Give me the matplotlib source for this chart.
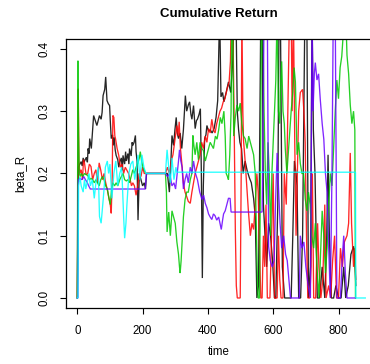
import matplotlib
matplotlib.use("Agg")
import matplotlib.pyplot as plt

# beta_R paths, one per series (time, value); values above 0.42 run off the top
black_t = [0, 3, 8, 12, 15, 18, 21, 24, 28, 31, 33, 36, 38, 43, 47, 50, 55, 60, 64, 68, 73, 76,
           79, 84, 87, 91, 95, 99, 101, 104, 108, 110, 113, 116, 119, 124, 127, 130, 135, 138,
           140, 145, 148, 150, 155, 158, 160, 165, 168, 170, 174, 178, 180, 183, 186, 190, 195,
           200, 205, 209, 212, 270, 276, 282, 286, 290, 295, 299, 303, 306, 310, 315, 320, 325,
           331, 335, 340, 344, 348, 351, 356, 361, 365, 368, 373, 377, 380, 383, 386, 390, 394,
           397, 402, 407, 413, 419, 425, 430, 436, 440, 445, 449, 456, 463, 470, 476, 480, 486,
           490, 494, 498, 503, 508, 514, 520, 527, 533, 540, 545, 550, 555, 558, 562, 566, 570,
           575, 580, 586, 592, 598, 604, 608, 614, 618, 622, 628, 635, 645, 655, 660, 665, 670,
           673, 678, 684, 690, 697, 703, 708, 714, 719, 723, 728, 735, 742, 750, 758, 764, 768,
           772, 778, 785, 792, 800, 808, 816, 822, 830, 838, 846, 850, 853]
black_v = [0.0, 0.21, 0.215, 0.219, 0.212, 0.225, 0.218, 0.222, 0.226, 0.218, 0.24, 0.232,
           0.256, 0.24, 0.27, 0.293, 0.285, 0.277, 0.285, 0.293, 0.287, 0.298, 0.325, 0.335,
           0.355, 0.317, 0.312, 0.309, 0.285, 0.256, 0.262, 0.245, 0.258, 0.238, 0.229, 0.222,
           0.21, 0.218, 0.225, 0.205, 0.229, 0.215, 0.235, 0.22, 0.232, 0.215, 0.24, 0.228, 0.25,
           0.245, 0.25, 0.261, 0.235, 0.22, 0.125, 0.2, 0.19, 0.18, 0.185, 0.175, 0.2, 0.2, 0.2,
           0.17, 0.21, 0.261, 0.245, 0.27, 0.29, 0.265, 0.256, 0.265, 0.24, 0.27, 0.325, 0.3, 0.31,
           0.315, 0.295, 0.287, 0.309, 0.272, 0.285, 0.287, 0.295, 0.304, 0.2, 0.032, 0.18, 0.256,
           0.262, 0.277, 0.268, 0.27, 0.265, 0.272, 0.29, 0.317, 0.46, 0.323, 0.33, 0.315, 0.33,
           0.347, 0.33, 0.38, 0.46, 0.46, 0.3, 0.27, 0.25, 0.24, 0.2, 0.22, 0.205, 0.193, 0.185,
           0.16, 0.131, 0.0, 0.02, 0.2, 0.46, 0.46, 0.15, 0.1, 0.05, 0.12, 0.1, 0.06, 0.0, 0.0,
           0.15, 0.46, 0.46, 0.05, 0.0, 0.0, 0.0, 0.1, 0.22, 0.2, 0.18, 0.0, 0.0, 0.1, 0.46, 0.46,
           0.0, 0.05, 0.46, 0.27, 0.2, 0.0, 0.0, 0.05, 0.0, 0.1, 0.23, 0.1, 0.0, 0.0, 0.02, 0.0,
           0.0, 0.05, 0.0, 0.02, 0.07, 0.083, 0.06, 0.02]

red_t = [0, 3, 5, 8, 12, 16, 19, 22, 27, 32, 37, 42, 47, 52, 57, 62, 67, 72, 77, 82, 87, 92, 97,
         101, 104, 107, 109, 112, 115, 117, 122, 127, 132, 137, 142, 147, 152, 157, 162, 166, 170,
         175, 180, 185, 190, 195, 200, 205, 210, 270, 276, 282, 288, 293, 298, 305, 309, 312, 316,
         320, 325, 330, 335, 340, 346, 351, 356, 361, 366, 371, 376, 381, 386, 392, 397, 402, 407,
         412, 417, 422, 427, 432, 437, 442, 447, 452, 459, 465, 469, 472, 476, 480, 484, 487, 490,
         499, 502, 504, 507, 509, 514, 519, 524, 530, 535, 540, 545, 550, 554, 558, 562, 566, 570,
         574, 578, 582, 590, 596, 600, 604, 612, 616, 620, 624, 630, 634, 640, 645, 650, 655, 658,
         662, 666, 670, 674, 678, 683, 690, 694, 698, 702, 706, 712, 716, 720, 724, 730, 736, 740,
         746, 752, 758, 762, 770, 776, 782, 788, 794, 800, 806, 812, 818, 826, 831, 836, 840, 846,
         850, 853]
red_v = [0.0, 0.336, 0.22, 0.2, 0.206, 0.19, 0.222, 0.217, 0.198, 0.2, 0.215, 0.211, 0.19, 0.2,
         0.206, 0.185, 0.217, 0.205, 0.19, 0.2, 0.185, 0.174, 0.16, 0.15, 0.136, 0.195, 0.293,
         0.29, 0.26, 0.256, 0.24, 0.229, 0.21, 0.215, 0.2, 0.21, 0.205, 0.2, 0.19, 0.18, 0.185,
         0.18, 0.165, 0.18, 0.2, 0.195, 0.21, 0.2, 0.2, 0.2, 0.21, 0.2, 0.22, 0.23, 0.25, 0.277,
         0.26, 0.283, 0.24, 0.217, 0.185, 0.17, 0.163, 0.155, 0.152, 0.17, 0.185, 0.2, 0.21,
         0.22, 0.23, 0.25, 0.24, 0.26, 0.25, 0.272, 0.265, 0.287, 0.27, 0.265, 0.28, 0.29, 0.3,
         0.305, 0.315, 0.32, 0.336, 0.347, 0.38, 0.46, 0.46, 0.3, 0.11, 0.02, 0.0, 0.0, 0.2, 0.46,
         0.3, 0.254, 0.22, 0.18, 0.14, 0.1, 0.12, 0.11, 0.15, 0.2, 0.17, 0.08, 0.0, 0.0, 0.1,
         0.05, 0.15, 0.0, 0.0, 0.12, 0.2, 0.0, 0.0, 0.1, 0.03, 0.0, 0.0, 0.2, 0.15, 0.3, 0.46,
         0.46, 0.3, 0.46, 0.25, 0.1, 0.2, 0.3, 0.33, 0.335, 0.3, 0.25, 0.1, 0.0, 0.0, 0.05, 0.2,
         0.0, 0.0, 0.12, 0.05, 0.0, 0.03, 0.15, 0.0, 0.02, 0.0, 0.06, 0.1, 0.0, 0.0, 0.08, 0.05,
         0.09, 0.1, 0.12, 0.233, 0.12, 0.05, 0.08, 0.03]

green_t = [0, 2, 4, 6, 9, 12, 17, 22, 27, 32, 37, 42, 47, 52, 57, 62, 67, 72, 77, 82, 87, 92, 97,
           101, 105, 109, 114, 119, 124, 130, 135, 140, 145, 150, 155, 160, 165, 170, 175, 180,
           186, 190, 193, 197, 201, 205, 210, 270, 273, 275, 280, 285, 290, 295, 300, 305, 310,
           313, 315, 318, 320, 325, 330, 335, 340, 346, 351, 354, 357, 361, 366, 371, 376, 381,
           386, 392, 397, 402, 407, 412, 417, 423, 428, 433, 438, 443, 449, 453, 456, 460, 463,
           467, 471, 473, 476, 479, 484, 489, 494, 499, 504, 509, 514, 520, 525, 530, 535, 540,
           545, 549, 552, 554, 558, 561, 564, 568, 572, 576, 580, 584, 588, 592, 596, 600, 604,
           608, 612, 616, 620, 622, 626, 630, 634, 637, 642, 646, 650, 655, 660, 664, 668, 673,
           678, 683, 688, 693, 698, 703, 708, 713, 718, 724, 729, 734, 740, 745, 750, 755, 760,
           765, 770, 775, 780, 786, 790, 795, 800, 805, 810, 814, 818, 822, 826, 831, 836, 841,
           846, 850, 852]
green_v = [0.0, 0.381, 0.26, 0.2, 0.195, 0.2, 0.195, 0.2, 0.198, 0.197, 0.19, 0.192, 0.19, 0.185,
           0.19, 0.185, 0.18, 0.19, 0.195, 0.19, 0.18, 0.175, 0.16, 0.15, 0.175, 0.185, 0.18,
           0.185, 0.18, 0.19, 0.195, 0.2, 0.19, 0.188, 0.19, 0.185, 0.195, 0.206, 0.2, 0.21,
           0.217, 0.225, 0.235, 0.22, 0.21, 0.205, 0.2, 0.2, 0.17, 0.106, 0.138, 0.1, 0.14, 0.13,
           0.12, 0.09, 0.07, 0.05, 0.04, 0.06, 0.08, 0.13, 0.158, 0.17, 0.17, 0.19, 0.2, 0.261,
           0.245, 0.23, 0.25, 0.222, 0.25, 0.24, 0.237, 0.22, 0.23, 0.24, 0.25, 0.245, 0.24, 0.26,
           0.255, 0.27, 0.29, 0.28, 0.3, 0.26, 0.2, 0.195, 0.19, 0.23, 0.3, 0.46, 0.46, 0.26, 0.29,
           0.31, 0.3, 0.313, 0.28, 0.26, 0.256, 0.24, 0.26, 0.25, 0.24, 0.23, 0.2, 0.1, 0.02, 0.0,
           0.0, 0.2, 0.46, 0.46, 0.3, 0.2, 0.15, 0.25, 0.2, 0.1, 0.2, 0.25, 0.3, 0.35, 0.46, 0.3,
           0.28, 0.33, 0.38, 0.3, 0.28, 0.24, 0.2, 0.23, 0.26, 0.3, 0.33, 0.37, 0.347, 0.23, 0.25,
           0.216, 0.2, 0.2, 0.16, 0.14, 0.17, 0.15, 0.1, 0.08, 0.12, 0.05, 0.0, 0.07, 0.14, 0.1,
           0.04, 0.08, 0.15, 0.2, 0.18, 0.25, 0.3, 0.35, 0.32, 0.37, 0.388, 0.42, 0.46, 0.46, 0.39,
           0.36, 0.31, 0.28, 0.3, 0.27, 0.0]

purple_t = [0, 2, 3, 8, 14, 20, 25, 30, 35, 40, 208, 212, 270, 276, 283, 290, 296, 301, 306, 310,
            313, 317, 321, 325, 330, 335, 340, 346, 351, 356, 362, 368, 375, 382, 387, 392, 397,
            402, 407, 412, 417, 422, 427, 433, 437, 441, 445, 448, 453, 459, 463, 468, 471, 566,
            568, 572, 582, 586, 591, 597, 603, 607, 612, 616, 621, 626, 632, 638, 643, 648, 653,
            660, 670, 680, 683, 688, 694, 700, 707, 714, 716, 719, 722, 726, 729, 734, 739, 744,
            750, 755, 760, 765, 770, 775, 780, 784, 790, 793, 795, 800, 806, 811, 816, 821, 826,
            852]
purple_v = [0.0, 0.0, 0.19, 0.192, 0.19, 0.195, 0.19, 0.186, 0.18, 0.175, 0.175, 0.2, 0.2, 0.195,
            0.2, 0.18, 0.185, 0.175, 0.2, 0.22, 0.238, 0.22, 0.21, 0.175, 0.19, 0.2, 0.185, 0.21,
            0.2, 0.22, 0.2, 0.19, 0.17, 0.158, 0.165, 0.152, 0.145, 0.135, 0.13, 0.126, 0.135,
            0.132, 0.125, 0.13, 0.12, 0.11, 0.125, 0.135, 0.14, 0.152, 0.16, 0.16, 0.138, 0.138,
            0.217, 0.46, 0.46, 0.083, 0.06, 0.05, 0.06, 0.15, 0.233, 0.18, 0.12, 0.08, 0.1, 0.07,
            0.06, 0.03, 0.0, 0.0, 0.0, 0.0, 0.1, 0.08, 0.09, 0.05, 0.02, 0.0, 0.15, 0.46, 0.3,
            0.36, 0.378, 0.35, 0.36, 0.32, 0.28, 0.255, 0.2, 0.17, 0.08, 0.0, 0.2, 0.46, 0.46, 0.2,
            0.0, 0.0, 0.0, 0.06, 0.1, 0.04, 0.0, 0.0]

cyan_t = [0, 2, 4, 8, 12, 18, 22, 26, 30, 36, 40, 46, 52, 58, 64, 68, 73, 78, 82, 86, 92, 96, 100,
          106, 112, 118, 124, 130, 136, 142, 145, 149, 152, 158, 164, 170, 176, 182, 186, 192, 198,
          204, 210, 270, 275, 280, 285, 290, 296, 302, 305, 852, 853, 882]
cyan_v = [0.0, 0.0, 0.18, 0.195, 0.18, 0.17, 0.19, 0.175, 0.185, 0.2, 0.18, 0.19, 0.16, 0.19,
          0.21, 0.131, 0.12, 0.15, 0.175, 0.21, 0.22, 0.2, 0.215, 0.16, 0.2, 0.22, 0.18, 0.2, 0.21,
          0.13, 0.096, 0.12, 0.15, 0.2, 0.215, 0.22, 0.19, 0.21, 0.23, 0.19, 0.23, 0.21, 0.2, 0.2,
          0.238, 0.21, 0.185, 0.225, 0.19, 0.21, 0.202, 0.202, 0.0, 0.0]

series = [
    (black_t, black_v, "#000000"),
    (red_t, red_v, "#ff0000"),
    (green_t, green_v, "#00c800"),
    (purple_t, purple_v, "#6a00ff"),
    (cyan_t, cyan_v, "#00ffff"),
]

x_ticks = [0, 200, 400, 600, 800]
y_ticks = [0.0, 0.1, 0.2, 0.3, 0.4]

plt.rcParams["font.family"] = ["Liberation Sans", "DejaVu Sans"]

fig = plt.figure(figsize=(3.70, 3.64), dpi=100)
ax = fig.add_axes([0.178, 0.154, 0.826, 0.739])

for t, v, col in series:
    ax.plot(t, v, color=col, lw=0.95, alpha=0.85, solid_joinstyle="miter")

ax.set_xlim(-35, 901)
ax.set_ylim(-0.016, 0.416)
ax.set_xticks(x_ticks)
ax.set_xticklabels([str(x) for x in x_ticks])
ax.set_yticks(y_ticks)
ax.set_yticklabels(["%.1f" % y for y in y_ticks], rotation=90, va="center")
ax.tick_params(axis="x", length=4, width=0.8, labelsize=8.3, pad=8)
ax.tick_params(axis="y", length=4, width=0.8, labelsize=8.3, pad=7)
for s in ax.spines.values():
    s.set_linewidth(0.9)

ax.set_title("Cumulative Return", fontsize=9.5, fontweight="bold", pad=16)
ax.set_xlabel("time", fontsize=8.3, labelpad=7)
ax.set_ylabel("beta_R", fontsize=8.3, labelpad=9)

fig.savefig("out.png", dpi=100, facecolor="white")
